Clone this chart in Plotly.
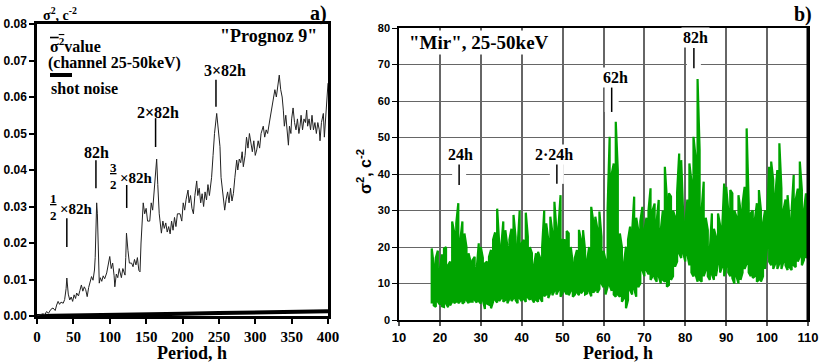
import plotly.graph_objects as go

W, H = 830, 363

# ---- panel a) "Prognoz 9" ----
period_a = [
    0, 4, 8, 11, 13, 16, 19, 22, 25, 27,
    29, 31, 33, 36, 38, 40, 41, 43, 45, 47,
    49, 51, 53, 54.5, 57, 59, 61, 63, 65, 67,
    69, 71, 73, 75, 77, 79, 80, 81, 82, 83,
    84, 85.6, 87, 89, 91, 93, 95.8, 98, 100, 102,
    104, 106, 107, 109, 111, 113, 114, 116, 118, 121,
    122, 123, 125, 127, 130, 132, 134, 136, 138, 140,
    141.6, 143, 146, 148, 150, 152, 155, 157, 159, 161,
    163, 164.5, 166, 168, 171, 173, 175, 177, 179, 181,
    183, 185, 187, 189, 191, 193, 196.6, 199, 201, 203,
    205, 207.6, 209, 211, 213, 215, 217, 219.5, 221, 223,
    225, 227, 229, 231, 233, 235, 237, 240, 242, 244,
    247, 249, 251.5, 253, 255, 258, 260, 262, 264, 266,
    268, 270, 272, 274.5, 276, 278, 280, 282, 283.6, 286,
    288, 290, 292, 294, 296, 298, 300, 302, 304, 306,
    308, 311, 313, 315, 317, 320, 322, 324, 327, 329,
    331, 333, 335, 337, 338.6, 340, 342, 344, 345.6, 347,
    349, 350, 352, 354, 356, 358, 360, 361.5, 363, 365,
    367, 369, 370.7, 372, 374, 376, 378, 380, 382, 384,
    386, 388, 389, 391, 393.6, 395, 397, 398.5, 400,
]
sigma_a = [
    0.0, 0.0003, 0.0006, 0.0004, 0.0012, 0.0008, 0.0018, 0.0022, 0.0015, 0.003,
    0.004, 0.0032, 0.0038, 0.0035, 0.0045, 0.0075, 0.0104, 0.006, 0.0044, 0.0052,
    0.004, 0.0058, 0.0048, 0.0063, 0.0055, 0.007, 0.0085, 0.0068, 0.008, 0.0072,
    0.0053, 0.0078, 0.009, 0.0108, 0.0098, 0.0126, 0.016, 0.024, 0.031, 0.028,
    0.018, 0.009, 0.0105, 0.0095, 0.011, 0.0102, 0.0118, 0.014, 0.0163, 0.013,
    0.0145, 0.011, 0.008, 0.0115, 0.0105, 0.013, 0.0121, 0.0105, 0.013, 0.0112,
    0.016, 0.0227, 0.018, 0.0145, 0.0145, 0.0135, 0.0155, 0.014, 0.016, 0.0125,
    0.0121, 0.02, 0.031, 0.028, 0.0295, 0.026, 0.026, 0.031, 0.029, 0.034,
    0.040, 0.043, 0.036, 0.028, 0.0227, 0.026, 0.024, 0.0255, 0.023, 0.0245,
    0.0225, 0.026, 0.0235, 0.027, 0.0245, 0.028, 0.028, 0.026, 0.031, 0.029,
    0.032, 0.0345, 0.031, 0.033, 0.0295, 0.028, 0.033, 0.037, 0.033, 0.035,
    0.031, 0.0335, 0.030, 0.034, 0.0318, 0.036, 0.033, 0.038, 0.044, 0.050,
    0.0555, 0.052, 0.0464, 0.038, 0.034, 0.029, 0.032, 0.034, 0.031, 0.035,
    0.0315, 0.0336, 0.038, 0.0427, 0.040, 0.043, 0.042, 0.045, 0.0409, 0.044,
    0.049, 0.046, 0.050, 0.047, 0.045, 0.048, 0.044, 0.0455, 0.048, 0.046,
    0.050, 0.052, 0.049, 0.051, 0.050, 0.0537, 0.056, 0.059, 0.062, 0.060,
    0.064, 0.066, 0.062, 0.060, 0.0564, 0.052, 0.055, 0.049, 0.0468, 0.052,
    0.050, 0.054, 0.057, 0.053, 0.051, 0.054, 0.050, 0.052, 0.055, 0.051,
    0.054, 0.053, 0.0564, 0.052, 0.054, 0.051, 0.055, 0.051, 0.053, 0.050,
    0.053, 0.051, 0.048, 0.053, 0.0555, 0.049, 0.055, 0.059, 0.0638,
]
shot_period = [0, 50, 100, 150, 200, 250, 300, 350, 400]
shot_sigma = [0.0, 0.0001, 0.0002, 0.0004, 0.0006, 0.0008, 0.001, 0.0012, 0.0013]

# ---- panel b) "Mir": dense spectrum, kept as upper / lower envelope ----
period_b = [
    18, 18.5, 19, 19.5, 20, 20.5, 21, 21.5, 22, 22.5,
    23, 23.5, 24, 24.5, 25, 25.5, 26, 26.5, 27, 27.5,
    28, 28.5, 29, 29.5, 30, 30.5, 31, 31.5, 32, 32.5,
    33, 33.5, 34, 34.5, 35, 35.5, 36, 36.5, 37, 37.5,
    38, 38.5, 39, 39.5, 40, 40.5, 41, 41.5, 42, 42.5,
    43, 43.5, 44, 44.5, 45, 45.5, 46, 46.5, 47, 47.5,
    48, 48.5, 49, 49.5, 50, 50.5, 51, 51.5, 52, 52.5,
    53, 53.5, 54, 54.5, 55, 55.5, 56, 56.5, 57, 57.5,
    58, 58.5, 59, 59.5, 60, 60.5, 61, 61.5, 62, 62.5,
    63, 63.5, 64, 64.5, 65, 65.5, 66, 66.5, 67, 67.5,
    68, 68.5, 69, 69.5, 70, 70.5, 71, 71.5, 72, 72.5,
    73, 73.5, 74, 74.5, 75, 75.5, 76, 76.5, 77, 77.5,
    78, 78.5, 79, 79.5, 80, 80.5, 81, 81.5, 82, 82.5,
    83, 83.5, 84, 84.5, 85, 85.5, 86, 86.5, 87, 87.5,
    88, 88.5, 89, 89.5, 90, 90.5, 91, 91.5, 92, 92.5,
    93, 93.5, 94, 94.5, 95, 95.5, 96, 96.5, 97, 97.5,
    98, 98.5, 99, 99.5, 100, 100.5, 101, 101.5, 102, 102.5,
    103, 103.5, 104, 104.5, 105, 105.5, 106, 106.5, 107, 107.5,
    108, 108.5, 109, 109.5, 110,
]
sigma_b_hi = [
    19.6, 15, 17, 19, 14, 18, 19.5, 20, 15, 16,
    27, 24, 26.5, 32, 22, 27, 23.7, 20, 18.3, 16,
    16.4, 17.3, 14, 21, 20, 17, 15.5, 16, 17.3, 19.2,
    22, 24, 30.5, 21, 20, 27, 24.6, 20.1, 22, 25,
    28.8, 22.8, 20, 30, 21, 22, 29.4, 22.8, 20, 18.3,
    15, 18.3, 18.7, 17, 20, 30, 26.5, 22, 28.3, 24,
    32.4, 24.6, 25.6, 34.2, 22, 21.9, 24.4, 23.7, 20, 15.5,
    17, 19.2, 24.7, 22, 24.6, 19, 16.4, 20, 31, 27,
    28.3, 25, 29.7, 22.8, 19, 16.4, 30.1, 50.2, 40, 42.9,
    54.3, 41.1, 23.7, 20, 15.5, 20.1, 22, 25.6, 24, 33.8,
    28, 24.6, 27, 31, 24.6, 28, 30, 36.1, 30, 31.9,
    27, 32.9, 24.6, 30, 42, 33, 34.7, 33.8, 30, 28.3,
    35, 45.6, 43.8, 28.3, 26.5, 33, 42.9, 38, 50.2, 44.7,
    66, 46.6, 30.1, 37.9, 28, 24.6, 19.2, 29.2, 25, 22.8,
    29.2, 26, 24.6, 37.4, 36.5, 30, 35.6, 34.7, 30, 28.3,
    34.2, 30, 31.9, 36.5, 52.5, 31.9, 29.2, 30, 27.4, 32,
    35.6, 30, 26.5, 30.1, 28, 42, 43.4, 38.3, 34, 41.1,
    48.4, 36, 30.1, 33, 34.2, 27.4, 30, 39.7, 32.9, 36,
    43.4, 35.6, 30, 34.7, 24.6,
]
sigma_b_lo = [
    4.5, 4, 3.6, 5, 4.2, 3.8, 3.6, 4.5, 3.5, 4,
    5, 4.6, 5, 4.6, 5.2, 4.5, 5, 5.5, 4.6, 5,
    5, 5.5, 4.8, 5.2, 4.5, 5.5, 3, 4.5, 4.2, 3.2,
    5, 5.5, 4.8, 5.2, 6, 5, 5.5, 4.6, 5.8, 5.2,
    6, 5.5, 4.6, 6, 5.2, 5.8, 5, 6.2, 5.5, 5.8,
    4.8, 5.5, 5, 6, 5, 6.5, 7, 6, 7.5, 6.8,
    8, 7, 8.2, 6.4, 7.5, 8, 7, 6.8, 8, 6.4,
    7, 7.5, 6.8, 7.3, 8, 7, 7.3, 8, 6.5, 7.5,
    8.2, 7.5, 8.5, 10, 9, 7, 9.1, 9.5, 8, 7,
    6.4, 7, 6.4, 5, 6, 3.2, 5.5, 8.2, 7, 8.5,
    6.4, 9, 10, 13.7, 12, 13.7, 12.5, 11, 12, 11.5,
    10.5, 12, 10, 11, 10.5, 9.1, 9.6, 11, 12, 14.6,
    16, 18.3, 17, 18.3, 16, 18, 15, 13, 11.9, 12.5,
    10.5, 11, 10.5, 12, 13.7, 12, 11, 12.5, 11, 12,
    15.5, 13, 14.6, 12, 14.6, 13, 12, 11.5, 10, 12,
    10, 11, 13, 14, 15.5, 13, 12, 11.5, 12, 10.5,
    11, 10.5, 12, 14, 20.1, 16, 15, 14, 15.5, 14,
    15.5, 14, 16, 15, 13.7, 14.5, 13.7, 15, 14.5, 16,
    17.3, 15, 16.4, 17, 18,
]


def fx(p):
    return p / W


def fy(p):
    return 1 - p / H


SERIF = "Liberation Serif"
SANS = "Liberation Sans"

# snake through the envelopes so the band looks like the dense trace
zig_x, zig_y = [], []
for i, (p, hi, lo) in enumerate(zip(period_b, sigma_b_hi, sigma_b_lo)):
    zig_x += [p, p]
    zig_y += [lo, hi] if i % 2 == 0 else [hi, lo]

fig = go.Figure()
fig.add_trace(go.Scatter(x=shot_period, y=shot_sigma, mode="lines",
                         line=dict(color="black", width=4), xaxis="x", yaxis="y"))
fig.add_trace(go.Scatter(x=period_a, y=sigma_a, mode="lines",
                         line=dict(color="#222222", width=1), xaxis="x", yaxis="y"))
fig.add_trace(go.Scatter(x=zig_x, y=zig_y, mode="lines",
                         line=dict(color="#00a400", width=2.2), xaxis="x2", yaxis="y2"))

ann = []


def text(s, x, y, size, family=SERIF, **kw):
    d = dict(text=s, x=fx(x), y=fy(y), xref="paper", yref="paper", showarrow=False,
             xanchor="center", yanchor="middle",
             font=dict(family=family, size=size, color="black", weight="bold"))
    d.update(kw)
    ann.append(d)


# panel a texts
text("σ<sup>2</sup>, c<sup>-2</sup>", 60, 14, 14)
text("a)", 318, 13, 20)
text('"Prognoz 9"', 268, 36, 18)
text('<span style="text-decoration:overline">σ<sup>2</sup></span>value', 48, 45, 16, xanchor="left")
text("(channel 25-50keV)", 46, 63, 16, xanchor="left")
text("shot noise", 49, 88, 16, xanchor="left")
text("Period, h", 192, 353, 18)
text("<u>1</u><br>2", 53, 207, 13)
text("×82h", 58, 209, 15, xanchor="left")
text("82h", 96, 152, 16)
text("<u>3</u><br>2", 113, 176, 13)
text("×82h", 118, 178, 15, xanchor="left")
text("2×82h", 158, 112, 16)
text("3×82h", 225, 71, 16)

# panel b texts
text("b)", 803, 15, 20)
text('"Mir", 25-50keV', 479, 43, 19, bgcolor="white")
text("Period, h", 618, 353, 18)
text("σ<sup>2</sup>, c<sup>-2</sup>", 364, 172, 16, family=SANS, textangle=-90)
text("24h", 460, 154, 16, bgcolor="white")
text("2·24h", 554, 154, 16, bgcolor="white")
text("62h", 615, 77, 16, bgcolor="white")
text("82h", 695, 38, 16, bgcolor="white")

shapes = [
    # shot-noise legend swatch
    dict(type="line", xref="paper", yref="paper", x0=fx(50), x1=fx(72), y0=fy(75), y1=fy(75),
         line=dict(color="black", width=4)),
]

# marker ticks above peaks: (period, top, bottom)
marks_a = [(41, 0.0268, 0.0189), (81, 0.0427, 0.035), (123.3, 0.0359, 0.0296),
           (163, 0.0542, 0.0463), (246, 0.0647, 0.0573)]
for p, y0, y1 in marks_a:
    shapes.append(dict(type="line", xref="x", yref="y", x0=p, x1=p, y0=y0, y1=y1,
                       line=dict(color="black", width=1.5)))
marks_b = [(24.7, 43, 37), (48.6, 43.3, 37.3), (62.0, 63.8, 57), (82.1, 74.5, 69)]
for p, y0, y1 in marks_b:
    shapes.append(dict(type="line", xref="x2", yref="y2", x0=p, x1=p, y0=y0, y1=y1,
                       layer="between", line=dict(color="white", width=14)))
    shapes.append(dict(type="line", xref="x2", yref="y2", x0=p, x1=p, y0=y0, y1=y1,
                       line=dict(color="black", width=1.5)))
# thick right edge of panel b
shapes.append(dict(type="line", xref="paper", yref="paper", x0=fx(808), x1=fx(808),
                   y0=fy(320), y1=fy(28), line=dict(color="black", width=3)))

fig.update_layout(
    template="none",
    width=W, height=H, margin=dict(l=0, r=0, t=0, b=0, autoexpand=False),
    paper_bgcolor="white", plot_bgcolor="white", showlegend=False,
    annotations=ann, shapes=shapes,
    xaxis=dict(domain=[fx(37), fx(328)], range=[0, 400], tickvals=list(range(0, 401, 50)),
               ticks="outside", ticklen=5, tickwidth=2, tickcolor="black",
               showline=True, linewidth=2.5, linecolor="black", mirror=True,
               showgrid=False, zeroline=False, anchor="y", automargin=False,
               tickfont=dict(family=SERIF, size=15, color="black", weight="bold")),
    yaxis=dict(domain=[fy(316), fy(24)], range=[0, 0.08], dtick=0.01, tickformat=".2f",
               ticks="outside", ticklen=5, tickwidth=2, tickcolor="black",
               showline=True, linewidth=2.5, linecolor="black", mirror=True,
               showgrid=False, zeroline=False, anchor="x", automargin=False,
               tickfont=dict(family=SANS, size=12, color="black", weight="bold")),
    xaxis2=dict(domain=[fx(399), fx(808)], range=[10, 110], dtick=10,
                ticks="outside", ticklen=4, tickwidth=1.5, tickcolor="#555555",
                showline=True, linewidth=2, linecolor="black", mirror=True,
                showgrid=True, gridcolor="#666666", gridwidth=1.5, zeroline=False,
                anchor="y2", automargin=False,
                tickfont=dict(family=SANS, size=13, color="black", weight="bold")),
    yaxis2=dict(domain=[fy(320), fy(28)], range=[0, 80], dtick=10,
                ticks="outside", ticklen=5, tickwidth=1, tickcolor="black",
                showline=True, linewidth=1.5, linecolor="black", mirror=True,
                showgrid=True, gridcolor="#666666", gridwidth=1.2, zeroline=False,
                anchor="x2", automargin=False,
                tickfont=dict(family=SANS, size=11, color="black", weight="bold")),
)

# the page's default body margin would shift the figure by 8px
fig.write_html("out.html", config={"displayModeBar": False},
               post_script="document.body.style.margin='0';")
